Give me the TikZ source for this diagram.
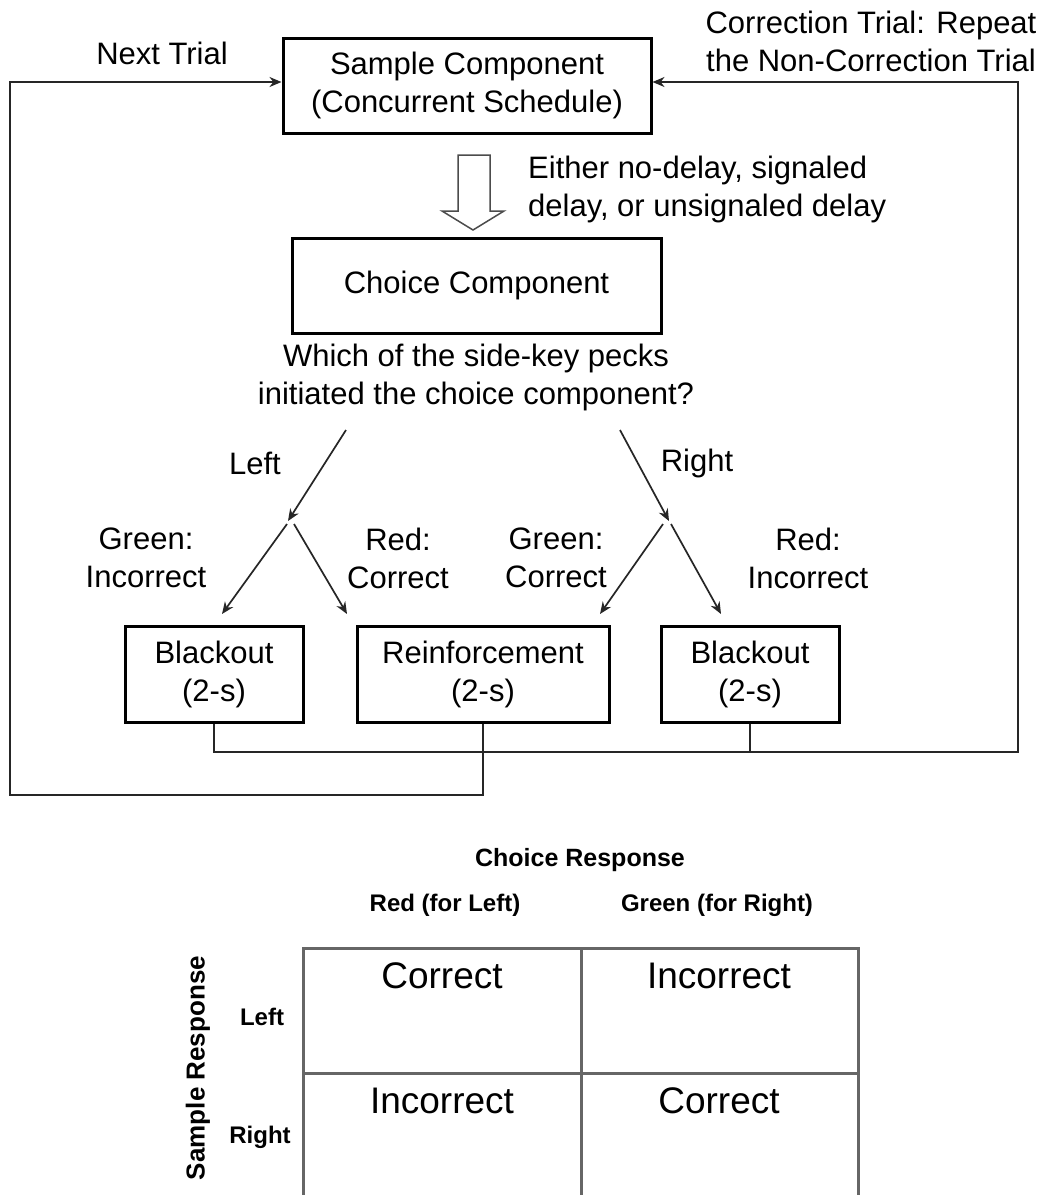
\documentclass[tikz,border=0pt]{standalone}
\usepackage{fontspec}
\setmainfont{Liberation Sans}
\usetikzlibrary{arrows.meta}
\begin{document}
\begin{tikzpicture}[x=1pt,y=-1pt,
  txt/.style={font=\fontsize{31}{38}\selectfont, align=center, inner sep=0pt, text=black},
  tbl/.style={font=\fontsize{37}{44}\selectfont, inner sep=0pt},
  hdr/.style={font=\bfseries\fontsize{24}{28}\selectfont, inner sep=0pt},
  mainbox/.style={draw=black, line width=3pt, fill=white, inner sep=0pt, align=center,
     font=\fontsize{31}{38}\selectfont},
  conn/.style={draw=black!85, line width=1.7pt, -{Stealth[length=12pt,width=10pt]}},
  loopline/.style={draw=black!85, line width=1.7pt},
  grid/.style={draw=black!60, line width=3pt}]
\useasboundingbox[fill=white] (0,0) rectangle (1045,1195);

% main boxes
\node[mainbox, minimum width=368pt, minimum height=95pt] (sample) at (467,85.5)
  {Sample Component\\(Concurrent Schedule)};
\node[mainbox, minimum width=369pt, minimum height=95pt] (choice) at (476.5,285.5)
  {Choice Component};
\node[mainbox, minimum width=178pt, minimum height=96pt] (blL) at (214,674)
  {Blackout\\(2-s)};
\node[mainbox, minimum width=252pt, minimum height=96pt] (reinf) at (483,674)
  {Reinforcement\\(2-s)};
\node[mainbox, minimum width=178pt, minimum height=96pt] (blR) at (750,674)
  {Blackout\\(2-s)};

% labels
\node[txt] (next) at (162,53) {Next Trial};
\node[txt] (corr) at (871,41) {Correction Trial: Repeat\\the Non-Correction Trial};
\node[txt, align=left, anchor=west] (either) at (528,189)
  {Either no-delay, signaled\\delay, or unsignaled delay};
\node[txt] (which) at (476,377) {Which of the side-key pecks\\initiated the choice component?};
\node[txt] (lleft) at (255,463) {Left};
\node[txt] (lright) at (697,463) {Right};
\node[txt] (gi) at (146,558) {Green:\\Incorrect};
\node[txt] (rc) at (398,558) {Red:\\Correct};
\node[txt] (gc) at (556,558) {Green:\\Correct};
\node[txt] (ri) at (808,558) {Red:\\Incorrect};

% block arrow
\draw[draw=black!70, line width=1.5pt, fill=white, line join=miter]
  (458,155) -- (490,155) -- (490,211) -- (504,211) -- (473,230) -- (442,211) -- (458,211) -- cycle;

% branch coordinates
\coordinate (ltop) at (346,430);
\coordinate (ljoin) at (288,521);
\coordinate (rtop) at (620,430);
\coordinate (rjoin) at (669,521);
\coordinate (la) at (287,524);
\coordinate (lb) at (294,524);
\coordinate (ra) at (663,524);
\coordinate (rb) at (671,524);
\coordinate (blLt) at (222,614);
\coordinate (reLt) at (347,614);
\coordinate (reRt) at (600,614);
\coordinate (blRt) at (721,614);

\draw[conn] (ltop) -- (ljoin);
\draw[conn] (rtop) -- (rjoin);
\draw[conn] (la) -- (blLt);
\draw[conn] (lb) -- (reLt);
\draw[conn] (ra) -- (reRt);
\draw[conn] (rb) -- (blRt);

% feedback loops
\coordinate (lcorner) at (10,795);
\coordinate (rcorner) at (1018,752);
\draw[conn] (reinf.south) |- (lcorner) |- ([yshift=3.5pt]sample.west);
\draw[conn] (blL.south) |- (rcorner) |- ([yshift=3.5pt]sample.east);
\draw[loopline] (blR.south) -- (blR.south |- rcorner);

% table
\node[hdr, font=\bfseries\fontsize{25}{30}\selectfont] (chresp) at (580,860) {Choice Response};
\node[hdr] (redl) at (445,905) {Red (for Left)};
\node[hdr] (greenr) at (717,905) {Green (for Right)};
\node[hdr] (rowl) at (262,1017) {Left};
\node[hdr] (rowr) at (260,1137) {Right};
\node[hdr, font=\bfseries\fontsize{26}{30}\selectfont, rotate=90] (sresp) at (198,1068) {Sample Response};
\draw[grid] (303,1195) -- (303,948) -- (858,948) -- (858,1195);
\draw[grid] (581,948) -- (581,1195);
\draw[grid] (303,1073) -- (858,1073);
\node[tbl] (c11) at (442,976) {Correct};
\node[tbl] (c12) at (719,976) {Incorrect};
\node[tbl] (c21) at (442,1101) {Incorrect};
\node[tbl] (c22) at (719,1101) {Correct};
\end{tikzpicture}
\end{document}
